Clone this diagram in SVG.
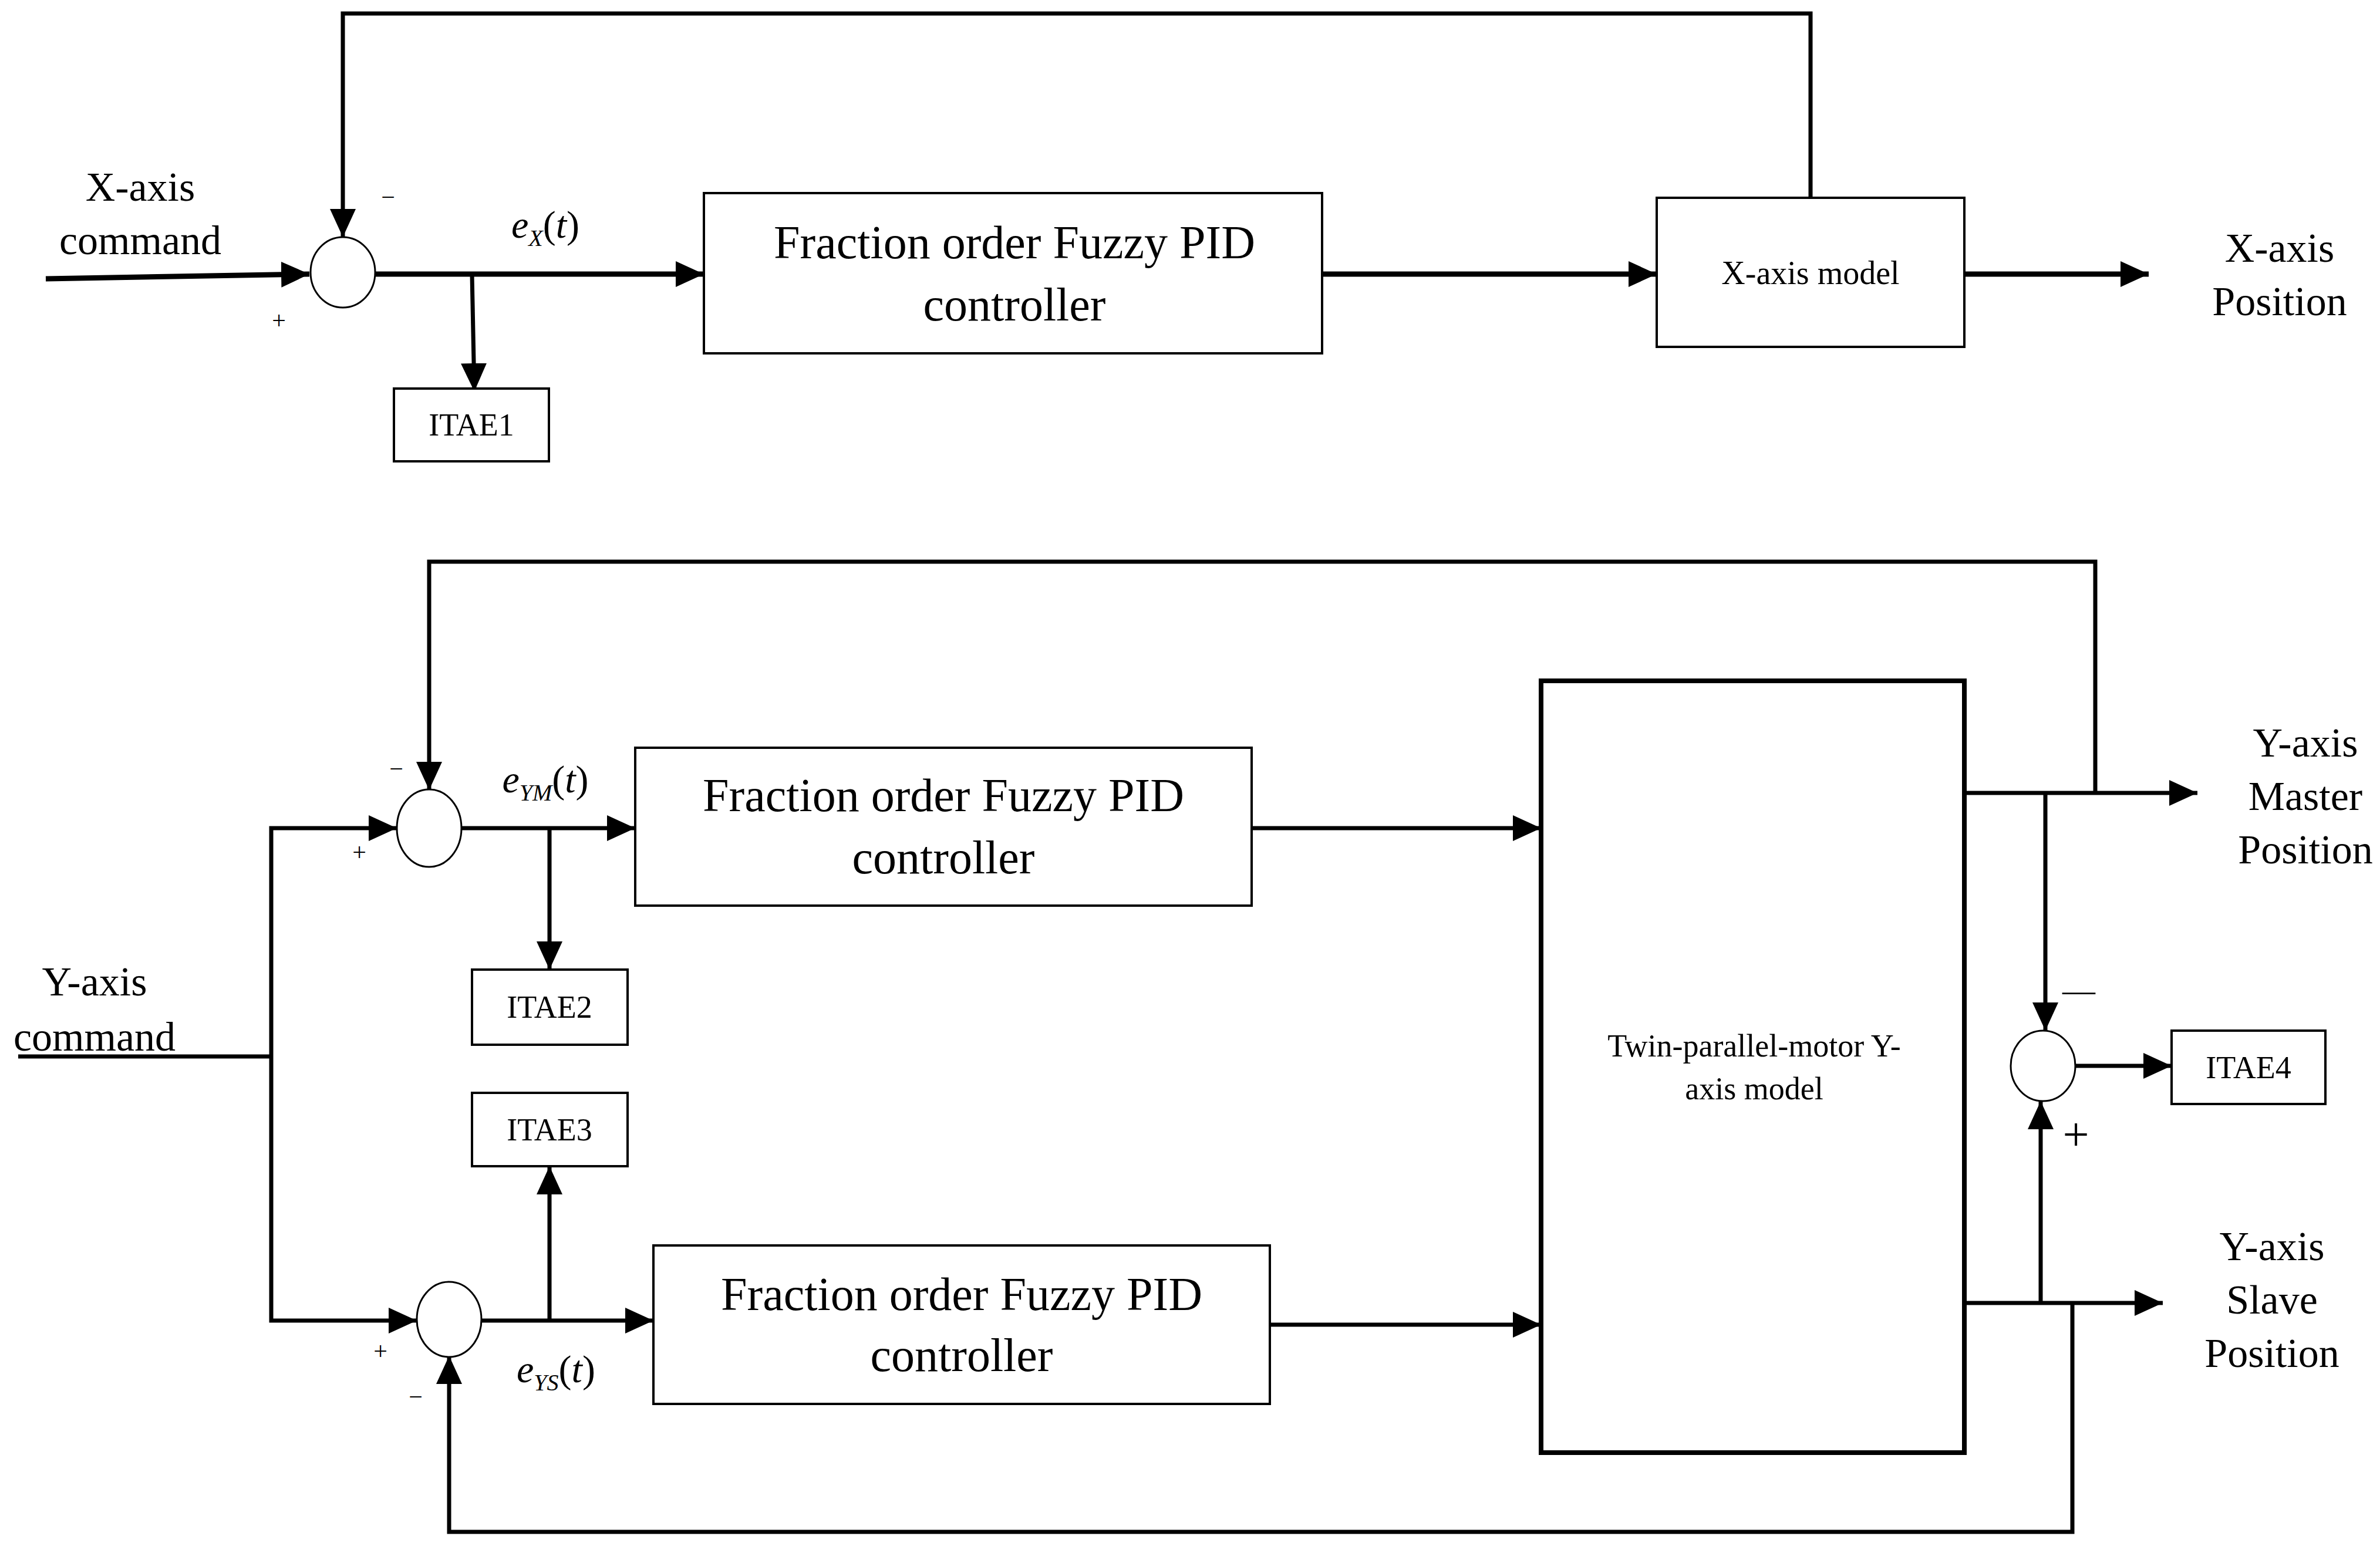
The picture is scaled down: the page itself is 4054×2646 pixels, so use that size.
<svg xmlns="http://www.w3.org/2000/svg" width="4054" height="2646" viewBox="0 0 4054 2646">
<defs>
<marker id="ah" markerUnits="userSpaceOnUse" markerWidth="50" markerHeight="44" refX="48" refY="22" orient="auto"><path d="M0,0 L48,22 L0,44 Z" fill="#000"/></marker>
<style>
.t{font-family:"Liberation Serif",serif;fill:#000;text-anchor:middle}
.box{fill:#fff;stroke:#000;stroke-width:4}
.ln{fill:none;stroke:#000;stroke-width:7}
.th{fill:none;stroke:#000;stroke-width:9}
.ar{marker-end:url(#ah)}
</style>
</defs>
<rect width="4054" height="2646" fill="#fff"/>
<g id="connectors">
<polyline class="ln" points="3084,337 3084,23 584,23 584,404" style="marker-end:url(#ah)"/>
<line class="th ar" x1="78" y1="475" x2="527" y2="467"/>
<line class="th ar" x1="640" y1="467" x2="1199" y2="467"/>
<line class="ln ar" x1="804" y1="467" x2="808" y2="667"/>
<line class="th ar" x1="2252" y1="467" x2="2822" y2="467"/>
<line class="th ar" x1="3346" y1="467" x2="3660" y2="467"/>
<polyline class="ln ar" points="3569,1351 3569,957 731,957 731,1346"/>
<polyline class="ln" points="31,1800 462,1800"/>
<polyline class="ln ar" points="462,1800 462,1411 676,1411"/>
<polyline class="ln ar" points="462,1800 462,2250 710,2250"/>
<line class="ln ar" x1="786" y1="1411" x2="1082" y2="1411"/>
<line class="ln ar" x1="936" y1="1411" x2="936" y2="1652"/>
<line class="ln ar" x1="820" y1="2250" x2="1113" y2="2250"/>
<line class="ln ar" x1="936" y1="2250" x2="936" y2="1987"/>
<line class="ln ar" x1="2132" y1="1411" x2="2625" y2="1411"/>
<line class="ln ar" x1="2163" y1="2257" x2="2625" y2="2257"/>
<line class="ln ar" x1="3346" y1="1351" x2="3743" y2="1351"/>
<line class="ln ar" x1="3484" y1="1351" x2="3484" y2="1756"/>
<line class="ln ar" x1="3534" y1="1816" x2="3699" y2="1816"/>
<line class="ln ar" x1="3346" y1="2220" x2="3684" y2="2220"/>
<line class="ln ar" x1="3476" y1="2220" x2="3476" y2="1876"/>
<polyline class="ln ar" points="3530,2220 3530,2610 765,2610 765,2310"/>
</g>
<g id="sum1"><ellipse cx="584" cy="464" rx="55" ry="60" fill="#fff" stroke="#000" stroke-width="3"/></g>
<g id="sumYM"><ellipse cx="731" cy="1411" rx="55" ry="66" fill="#fff" stroke="#000" stroke-width="3"/></g>
<g id="sumYS"><ellipse cx="765" cy="2248" rx="55" ry="64" fill="#fff" stroke="#000" stroke-width="3"/></g>
<g id="sumD"><ellipse cx="3480" cy="1816" rx="55" ry="60" fill="#fff" stroke="#000" stroke-width="3"/></g>
<g id="ctrlX"><rect class="box" x="1199" y="329" width="1053" height="273"/>
<text class="t" x="1728" y="440" font-size="80">Fraction order Fuzzy PID</text>
<text class="t" x="1728" y="546" font-size="80">controller</text></g>
<g id="xmodel"><rect class="box" x="2822" y="337" width="524" height="254"/>
<text class="t" x="3084" y="484" font-size="56">X-axis model</text></g>
<g id="itae1"><rect class="box" x="671" y="662" width="264" height="124"/>
<text class="t" x="803" y="742" font-size="54">ITAE1</text></g>
<g id="ctrlYM"><rect class="box" x="1082" y="1274" width="1050" height="269"/>
<text class="t" x="1607" y="1382" font-size="80">Fraction order Fuzzy PID</text>
<text class="t" x="1607" y="1488" font-size="80">controller</text></g>
<g id="ctrlYS"><rect class="box" x="1113" y="2122" width="1050" height="270"/>
<text class="t" x="1638" y="2232" font-size="80">Fraction order Fuzzy PID</text>
<text class="t" x="1638" y="2336" font-size="80">controller</text></g>
<g id="itae2"><rect class="box" x="804" y="1652" width="265" height="128"/>
<text class="t" x="936" y="1734" font-size="54">ITAE2</text></g>
<g id="itae3"><rect class="box" x="804" y="1862" width="265" height="125"/>
<text class="t" x="936" y="1943" font-size="54">ITAE3</text></g>
<g id="ymodel"><rect x="2625" y="1160" width="721" height="1315" fill="#fff" stroke="#000" stroke-width="8"/>
<text class="t" x="2988" y="1800" font-size="54">Twin-parallel-motor Y-</text>
<text class="t" x="2988" y="1873" font-size="54">axis model</text></g>
<g id="itae4"><rect class="box" x="3699" y="1756" width="262" height="125"/>
<text class="t" x="3830" y="1837" font-size="54">ITAE4</text></g>
<g id="labels">
<text class="t" x="239" y="342" font-size="70">X-axis</text>
<text class="t" x="239" y="433" font-size="70">command</text>
<text class="t" x="661" y="350" font-size="42">−</text>
<text class="t" x="475" y="560" font-size="42">+</text>
<text class="t" x="929" y="405" font-size="66" font-style="italic">e<tspan font-size="40" dy="14">X</tspan><tspan dy="-14" font-style="normal">(</tspan>t<tspan font-style="normal">)</tspan></text>
<text class="t" x="3883" y="446" font-size="70">X-axis</text>
<text class="t" x="3883" y="537" font-size="70">Position</text>
<text class="t" x="161" y="1696" font-size="70">Y-axis</text>
<text class="t" x="161" y="1790" font-size="70">command</text>
<text class="t" x="675" y="1324" font-size="42">−</text>
<text class="t" x="612" y="1466" font-size="42">+</text>
<text class="t" x="648" y="2316" font-size="42">+</text>
<text class="t" x="708" y="2394" font-size="42">−</text>
<text class="t" x="929" y="1350" font-size="66" font-style="italic">e<tspan font-size="40" dy="14">YM</tspan><tspan dy="-14" font-style="normal">(</tspan>t<tspan font-style="normal">)</tspan></text>
<text class="t" x="947" y="2355" font-size="66" font-style="italic">e<tspan font-size="40" dy="14">YS</tspan><tspan dy="-14" font-style="normal">(</tspan>t<tspan font-style="normal">)</tspan></text>
<text class="t" x="3927" y="1289" font-size="70">Y-axis</text>
<text class="t" x="3927" y="1380" font-size="70">Master</text>
<text class="t" x="3927" y="1471" font-size="70">Position</text>
<text class="t" x="3870" y="2147" font-size="70">Y-axis</text>
<text class="t" x="3870" y="2238" font-size="70">Slave</text>
<text class="t" x="3870" y="2329" font-size="70">Position</text>
<text class="t" x="3541" y="1706" font-size="56">—</text>
<text class="t" x="3536" y="1960" font-size="80">+</text>
</g>
</svg>
